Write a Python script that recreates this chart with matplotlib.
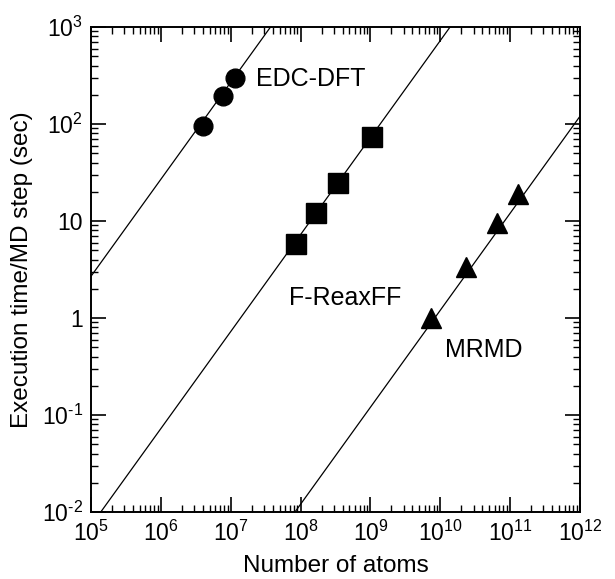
import numpy as np
import matplotlib
import matplotlib.pyplot as plt

matplotlib.use('Agg')

plt.rcParams['font.family'] = ['Liberation Sans', 'DejaVu Sans']
plt.rcParams['mathtext.fontset'] = 'custom'
plt.rcParams['mathtext.rm'] = 'Liberation Sans'
plt.rcParams['mathtext.it'] = 'Liberation Sans'

# measured points (number of atoms, seconds per MD step)
edc_atoms = [3.96e6, 7.66e6, 1.17e7]
edc_time = [95, 194, 296]

reax_atoms = [8.57e7, 1.67e8, 3.45e8, 1.04e9]
reax_time = [5.75, 12.2, 24.8, 74]

mrmd_atoms = [7.48e9, 2.37e10, 6.5e10, 1.30e11]
mrmd_time = [1.0, 3.38, 9.5, 18.8]

# linear-scaling fit lines: log10(t) = slope*log10(N) + intercept
fit_slope = 1.0
edc_intercept = -4.57
reax_intercept = -7.14
mrmd_intercept = -9.92

x_ticks = [1e5, 1e6, 1e7, 1e8, 1e9, 1e10, 1e11, 1e12]
x_tick_labels = ['10$^{5}$', '10$^{6}$', '10$^{7}$', '10$^{8}$', '10$^{9}$',
                 '10$^{10}$', '10$^{11}$', '10$^{12}$']
y_ticks = [1e-2, 1e-1, 1, 10, 1e2, 1e3]
y_tick_labels = ['10$^{\\text{-}2}$', '10$^{\\text{-}1}$', '1', '10', '10$^{2}$', '10$^{3}$']


def fit_line(intercept):
    xs = np.array([1e4, 1e13])
    return xs, 10 ** (fit_slope * np.log10(xs) + intercept)


fig = plt.figure(figsize=(6.15, 5.79), dpi=100)
ax = fig.add_axes([91 / 615, 1 - 512 / 579, (580 - 91) / 615, (512 - 27) / 579])

for b in (edc_intercept, reax_intercept, mrmd_intercept):
    xs, ys = fit_line(b)
    ax.plot(xs, ys, color='black', linewidth=0.9)

ax.plot(edc_atoms, edc_time, 'o', color='black', markersize=13.5)
ax.plot(reax_atoms, reax_time, 's', color='black', markersize=14)
ax.plot(mrmd_atoms, mrmd_time, '^', color='black', markersize=15)

ax.set_xscale('log')
ax.set_yscale('log')
ax.set_xlim(1e5, 1e12)
ax.set_ylim(1e-2, 1e3)

ax.set_xticks(x_ticks)
ax.set_xticklabels(x_tick_labels)
ax.set_yticks(y_ticks)
ax.set_yticklabels(y_tick_labels)

ax.tick_params(which='both', direction='in', top=True, right=True, labelsize=16.5)
ax.tick_params(which='major', length=11, width=1.2, pad=6)
ax.tick_params(which='minor', length=5, width=1.0)
for s in ax.spines.values():
    s.set_linewidth(1.4)

ax.text(2.3e7, 290, 'EDC-DFT', fontsize=18, va='center', ha='left')
ax.text(6.8e7, 1.6, 'F-ReaxFF', fontsize=18, va='center', ha='left')
ax.text(1.15e10, 0.47, 'MRMD', fontsize=18, va='center', ha='left')

ax.set_xlabel('Number of atoms', fontsize=17.5, labelpad=7)
ax.set_ylabel('Execution time/MD step (sec)', fontsize=17.5, labelpad=6)

fig.savefig('out.png', dpi=100)
